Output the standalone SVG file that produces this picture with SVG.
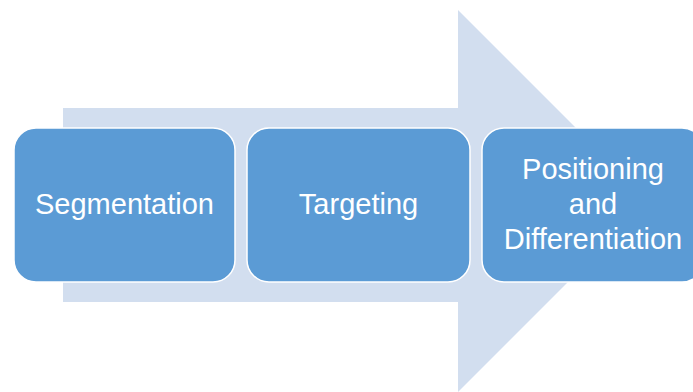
<svg xmlns="http://www.w3.org/2000/svg" width="693" height="392" viewBox="0 0 693 392">
<style>
.box{fill:#5B9BD5;stroke:#FFFFFF;stroke-width:1.5}
.lbl{font-family:"Liberation Sans",Arial,sans-serif;font-size:29px;fill:#FFFFFF;text-anchor:middle}
</style>
<rect width="693" height="392" fill="#FFFFFF"/>
<g id="arrow">
<polygon points="63,108 458,108 458,10 649,201 458,392 458,302 63,302" fill="#D2DEEF"/>
</g>
<g id="connectors"></g>
<g id="segmentation">
<rect class="box" x="14" y="128" width="221" height="154" rx="22"/>
<text class="lbl" x="124.5" y="214">Segmentation</text>
</g>
<g id="targeting">
<rect class="box" x="247" y="128" width="223" height="154" rx="22"/>
<text class="lbl" x="358.5" y="214">Targeting</text>
</g>
<g id="positioning">
<rect class="box" x="482" y="128" width="222" height="154" rx="22"/>
<text class="lbl" x="593" y="179">Positioning</text>
<text class="lbl" x="593" y="214">and</text>
<text class="lbl" x="593" y="249">Differentiation</text>
</g>
</svg>
